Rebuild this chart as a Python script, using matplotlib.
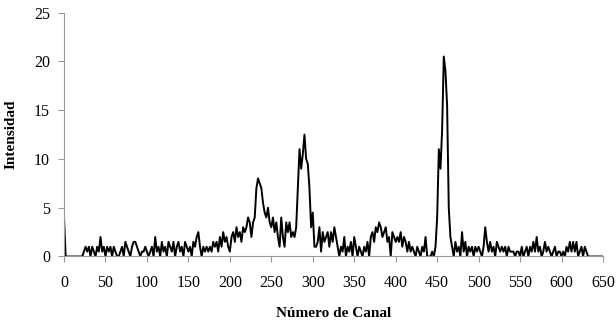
import matplotlib.pyplot as plt

# Canal (cada 2) e intensidad
canal = list(range(0, 652, 2))
intensidad = [
    4, 0, 0, 0, 0, 0, 0, 0, 0, 0, 0, 0, 0.5, 1, 0.5, 1, 0, 1, 0.5, 0, 1, 0.5, 2, 0.5, 1,
    0, 1, 0.5, 1, 0, 1, 0.5, 0, 0, 0.5, 1, 0, 1.5, 1, 0.5, 0, 1, 1.5, 1.5, 1, 0.5, 0, 0.5, 0.5, 1,
    0.5, 0, 0.5, 1, 0, 2, 0.5, 1, 0, 1.5, 0.5, 1, 0, 1.5, 1, 0.5, 1.5, 0, 1, 1.5, 0.5, 1, 0, 1.5, 1,
    0.5, 1, 0, 1.5, 1, 2, 2.5, 1, 0, 1, 0.5, 1, 0.5, 1, 0.5, 1.5, 1, 1.5, 0.5, 2, 1, 2.5, 1.5, 2, 1,
    0.5, 2, 2.5, 1.5, 3, 2, 2.5, 1.5, 3, 2.5, 3, 4, 3.5, 2, 3.5, 4, 7, 8, 7.5, 7, 5.5, 4.5, 4, 5, 3.5,
    3, 4, 2.5, 3.5, 2, 1, 4, 2, 1, 3.5, 2.5, 3.5, 2, 2.5, 2, 3, 7, 11, 9, 10.5, 12.5, 10, 9.5, 7, 3,
    4.5, 1, 1, 1.5, 3, 0.5, 2.5, 1.5, 2, 2.5, 1, 2.5, 1.5, 3, 2, 1, 0, 1, 0.5, 2, 0, 1, 0.5, 1.5, 0,
    2, 1, 0, 1, 0.5, 0, 1, 0.5, 1.5, 0, 2, 2.5, 1.5, 3, 2.5, 3.5, 3, 2, 2.5, 3, 1.5, 2, 0, 2.5, 2,
    1.5, 2, 1.5, 2.5, 1, 2, 1.5, 0.5, 1.5, 0.5, 1, 0.5, 0, 1, 0.5, 0, 1, 0.5, 2, 0, 0, 0, 0.5, 0, 1,
    4, 11, 9, 13, 20.5, 19, 15.5, 5, 2, 1, 0, 1.5, 0.5, 1, 0, 2.5, 0.5, 1.5, 0, 1, 0.5, 1, 0, 1, 0.5,
    1, 0.5, 0, 1, 3, 1.5, 0.5, 1.5, 0.5, 1, 0, 1.5, 1, 0.5, 1, 0.5, 1, 0, 1, 0.5, 0.5, 0.5, 0, 0.5, 0.5,
    0, 1, 0, 0.5, 1, 0, 1, 0.5, 1.5, 0.5, 2, 0.5, 1, 0, 0.5, 1.5, 0.5, 1, 0.5, 0, 0.5, 1, 0, 0.5, 0.5,
    0, 0.5, 0, 1, 0.5, 1.5, 0.5, 1.5, 0.5, 1.5, 0, 0.5, 1, 0, 1, 0.5, 0, 0, 0, 0, 0, 0, 0, 0, 0, 0,
]

plt.rcParams['font.family'] = 'Liberation Serif'

fig = plt.figure(figsize=(6.16, 3.26), dpi=100)
ax = fig.add_axes([0.1039, 0.2132, 0.875, 0.748])

ax.plot(canal, intensidad, color='black', linewidth=1.4)

ax.set_xlim(0, 650)
ax.set_ylim(0, 25)
ax.set_xticks(range(0, 651, 50))
ax.set_yticks(range(0, 26, 5))

for side in ['top', 'right']:
    ax.spines[side].set_visible(False)
for side in ['left', 'bottom']:
    ax.spines[side].set_color('#999999')
    ax.spines[side].set_linewidth(0.8)
ax.tick_params(colors='#999999', labelcolor='black', labelsize=11.5, length=4, width=0.8)
ax.tick_params(axis='x', pad=9)
ax.tick_params(axis='y', pad=6)

ax.set_xlabel('Número de Canal', fontsize=11, fontweight='bold', labelpad=12)
ax.set_ylabel('Intensidad', fontsize=11, fontweight='bold', labelpad=12)

fig.savefig('out.png', dpi=100)
